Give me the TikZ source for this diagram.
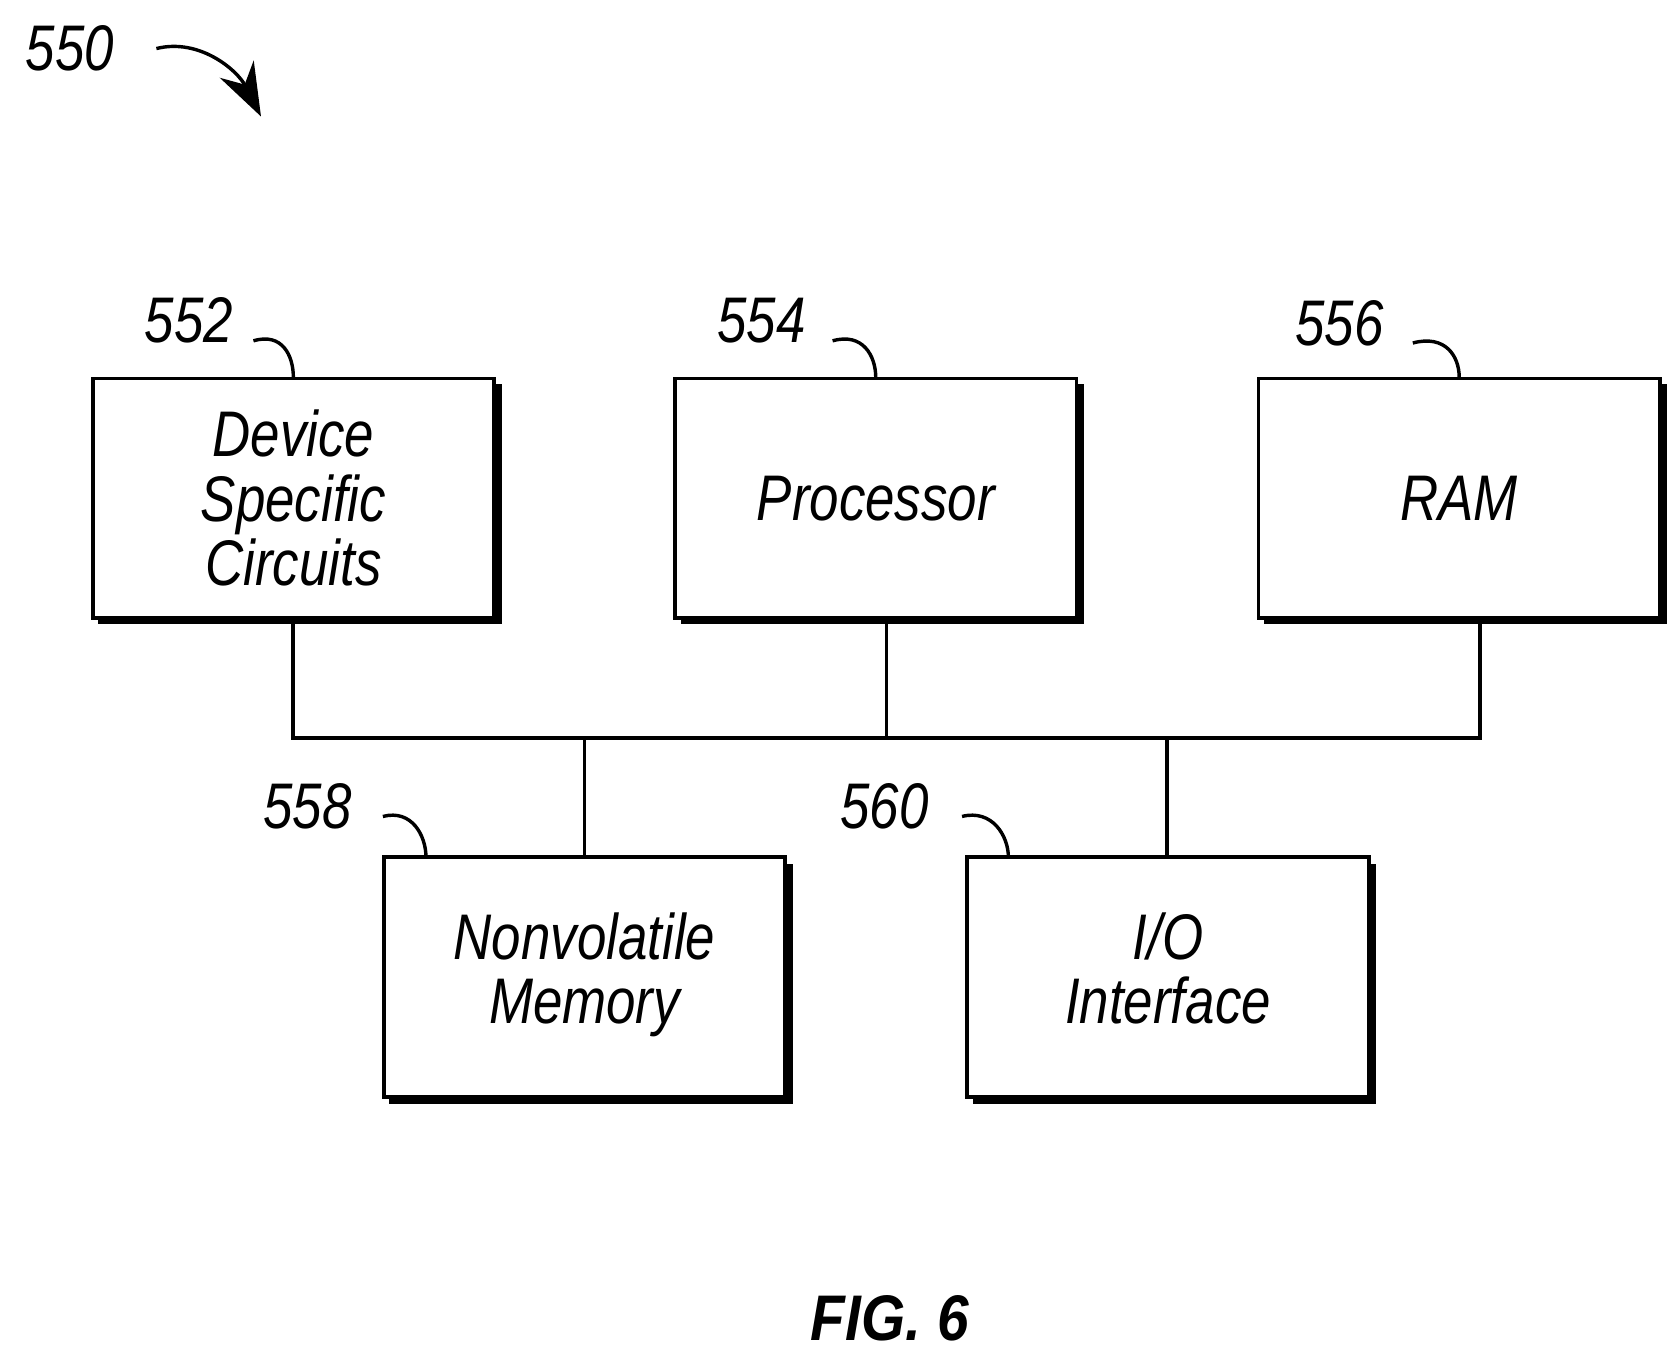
\documentclass[tikz,border=0pt]{standalone}
\usepackage{fontspec}
\setmainfont{Liberation Sans}
\newfontfamily\lab[FakeStretch=0.82]{Liberation Sans}
\newfontfamily\figf[FakeStretch=0.88]{Liberation Sans}
\usetikzlibrary{arrows.meta}
\begin{document}
\begin{tikzpicture}[x=0.01cm,y=-0.01cm,
  box/.style={draw,line width=1pt,fill=white,minimum width=3.72cm,minimum height=2.22cm,align=center,font=\lab\itshape\fontsize{17}{19}\selectfont,inner sep=0pt},
  ref/.style={font=\lab\itshape\fontsize{17}{19}\selectfont},
  lead/.style={line width=0.9pt},
  bus/.style={line width=1pt}]
\useasboundingbox (0,0) rectangle (1554,1256);
\foreach \x/\y in {85/350,625/350,1166/350,355/795,896/795}
  \fill (\x+6,\y+6) rectangle (\x+380,\y+229);
\node[box] (a) at (272,462) {Device\\[-2pt]Specific\\[-2pt]Circuits};
\node[box] (b) at (812,462) {Processor};
\node[box] (c) at (1353,462) {RAM};
\node[box] (d) at (542,906) {\raisebox{2pt}{\begin{tabular}{@{}c@{}}Nonvolatile\\[-2pt]Memory\end{tabular}}};
\node[box] (e) at (1083,906) {\raisebox{2pt}{\begin{tabular}{@{}c@{}}I/O\\[-2pt]Interface\end{tabular}}};
\coordinate (j1) at (272,684);
\coordinate (j2) at (822,684);
\coordinate (j3) at (1372,684);
\coordinate (j4) at (542,684);
\coordinate (j5) at (1082,684);
\draw[bus] (a.south) -- (j1) -- (j3) -- (c.south-|j3);
\draw[bus] (b.south-|j2) -- (j2);
\draw[bus] (j4) -- (d.north-|j4);
\draw[bus] (j5) -- (e.north-|j5);
\node[ref] (l1) at (175,297) {552};
\node[ref] (l2) at (706,297) {554};
\node[ref] (l3) at (1242,300) {556};
\node[ref] (l4) at (285,748) {558};
\node[ref] (l5) at (820,748) {560};
\node[ref] (l0) at (65,45) {550};
\draw[lead] (235,316) .. controls (262,308) and (272,330) .. (272,350);
\draw[lead] (772,316) .. controls (800,308) and (812,330) .. (812,350);
\draw[lead] (1310,318) .. controls (1340,310) and (1353,330) .. (1353,350);
\draw[lead] (355,757) .. controls (382,750) and (395,775) .. (395,795);
\draw[lead] (892,757) .. controls (920,750) and (935,775) .. (935,795);
\draw[lead,-{Stealth[length=14pt,width=10pt]}] (145,45) .. controls (185,35) and (220,65) .. (242,108);
\node[font=\figf\bfseries\itshape\fontsize{17}{19}\selectfont] (fig) at (825,1222) {FIG. 6};
\end{tikzpicture}
\end{document}
